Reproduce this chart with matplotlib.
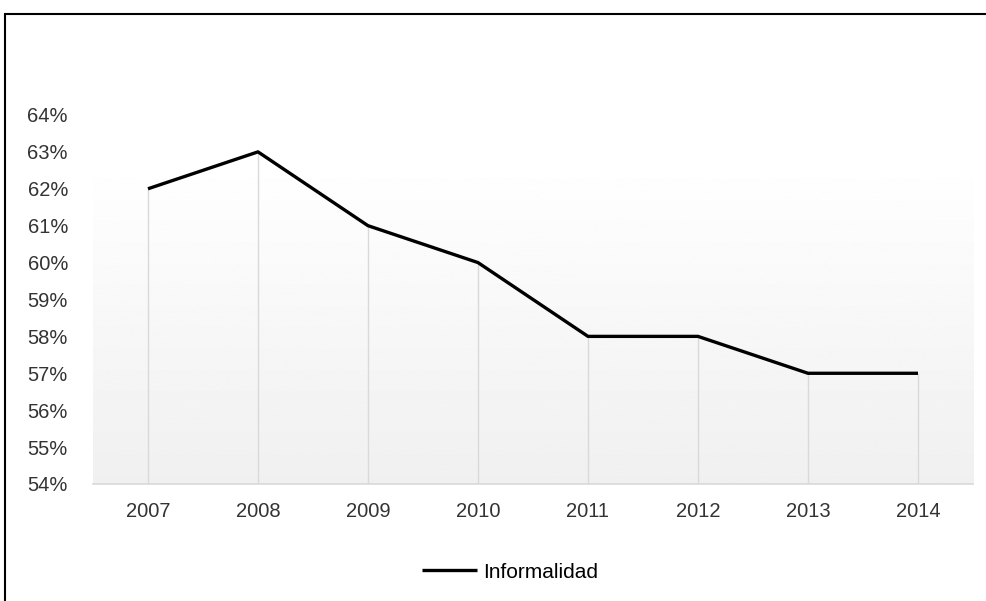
import numpy as np
import matplotlib
matplotlib.use("Agg")
import matplotlib.pyplot as plt
from matplotlib.patches import Rectangle
from matplotlib.ticker import FuncFormatter

years = ["2007", "2008", "2009", "2010", "2011", "2012", "2013", "2014"]
informalidad = [62, 63, 61, 60, 58, 58, 57, 57]
series_name = "Informalidad"
y_ticks = list(range(54, 65))

plt.rcParams["font.family"] = ["Liberation Sans", "DejaVu Sans"]

fig = plt.figure(figsize=(9.87, 6.01), dpi=100)
ax = fig.add_axes([0.0942, 0.1947, 0.8916, 0.614])

x = np.arange(len(years))

# gradient background of the plot area
grad = np.linspace(1.0, 0.94, 256).reshape(-1, 1)
ax.imshow(grad, cmap="gray", vmin=0, vmax=1, aspect="auto",
          extent=[-0.5, len(years) - 0.5, 54, 62.85], zorder=0)

# drop lines
ax.vlines(x, 54, informalidad, color="#d9d9d9", lw=1, zorder=1)

line, = ax.plot(x, informalidad, color="black", lw=2.4, zorder=3,
                solid_capstyle="butt", label=series_name)

ax.set_xlim(-0.5, len(years) - 0.5)
ax.set_ylim(54, 64)
ax.set_xticks(x)
ax.set_xticklabels(years)
ax.set_yticks(y_ticks)
ax.yaxis.set_major_formatter(FuncFormatter(lambda v, p: f"{v:.0f}%"))
ax.tick_params(length=0, labelsize=14.5, colors="#333333")
ax.tick_params(axis="y", pad=18)
ax.tick_params(axis="x", pad=13)
for lab in ax.get_yticklabels():
    lab.set_horizontalalignment("right")

for s in ["top", "right", "left"]:
    ax.spines[s].set_visible(False)
ax.spines["bottom"].set_color("#d9d9d9")
ax.spines["bottom"].set_linewidth(1.2)

fig.legend(handles=[line], loc="center", bbox_to_anchor=(0.517, 0.048),
           frameon=False, fontsize=15, handlelength=2.65, handletextpad=0.3)

# outer frame (cropped)
fig.add_artist(Rectangle((0.005, -0.1), 1.5, 1.0767, transform=fig.transFigure,
                         fill=False, edgecolor="black", lw=1.5))

fig.savefig("out.png", dpi=100)
